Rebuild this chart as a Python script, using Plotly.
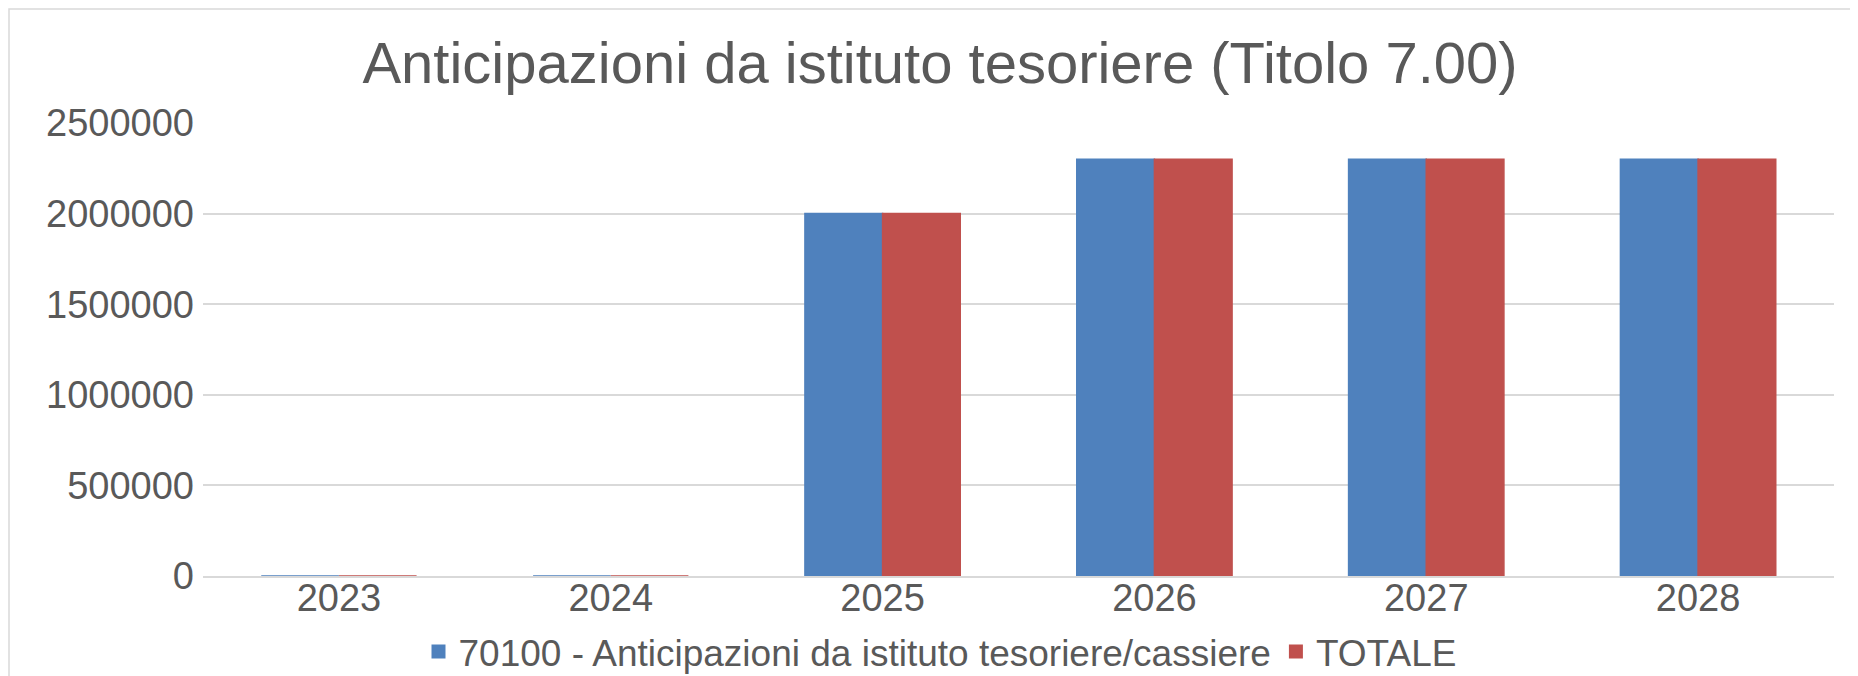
import plotly.graph_objects as go

years = ["2023", "2024", "2025", "2026", "2027", "2028"]
anticipazioni = [0, 0, 2000000, 2300000, 2300000, 2300000]
totale = [0, 0, 2000000, 2300000, 2300000, 2300000]
series_names = ["70100 - Anticipazioni da istituto tesoriere/cassiere", "TOTALE"]
title_text = "Anticipazioni da istituto tesoriere (Titolo 7.00)"
y_ticks = [0, 500000, 1000000, 1500000, 2000000, 2500000]

BLUE = "#4F81BD"
RED = "#C0504D"
TEXT = "#595959"
GRID = "#D9D9D9"
FONT = "Liberation Sans, Arial, sans-serif"

fig = go.Figure()
fig.add_trace(go.Bar(x=years, y=anticipazioni, name=series_names[0],
                     marker=dict(color=BLUE, line=dict(color=BLUE, width=1.5))))
fig.add_trace(go.Bar(x=years, y=totale, name=series_names[1],
                     marker=dict(color=RED, line=dict(color=RED, width=1.5))))

# page has an 8px body margin: figure is sized to fit the window
W, H = 1850, 668
L, R, T, B = 195, 24, 115, 100
pw = W - L - R
ph = H - T - B

fig.update_layout(
    width=W, height=H,
    margin=dict(l=L, r=R, t=T, b=B, pad=0, autoexpand=False),
    paper_bgcolor="white", plot_bgcolor="white",
    barmode="group", bargap=0.4286, bargroupgap=0,
    font=dict(family=FONT, color=TEXT, size=38),
    title=dict(text=title_text, font=dict(size=58, color=TEXT, family=FONT),
               x=(932 - L) / pw, xref="paper", xanchor="center",
               y=1 - 55 / H, yref="container", yanchor="middle"),
    legend=dict(orientation="h", x=(932 - L) / pw, xanchor="center",
                y=1 - 644 / H, yref="container", yanchor="middle",
                font=dict(size=37, color=TEXT, family=FONT),
                itemsizing="constant", bgcolor="rgba(0,0,0,0)"),
    showlegend=True,
)
fig.update_xaxes(automargin=False, showgrid=False, showline=True, linecolor=GRID, linewidth=2,
                 ticks="", tickfont=dict(size=38, color=TEXT), ticklabelstandoff=-13)
fig.update_yaxes(automargin=False, range=[0, 2500000], tickvals=y_ticks, tickformat="d",
                 showgrid=True, gridcolor=GRID, gridwidth=1.5, zeroline=False,
                 showline=False, ticks="", tickfont=dict(size=38, color=TEXT),
                 ticklabelstandoff=8)

# chart frame (outer border)
fig.add_shape(type="rect", xref="paper", yref="paper",
              x0=(1 - L) / pw, x1=1.2, y0=-0.5, y1=(H - B - 1) / ph,
              line=dict(color=GRID, width=1.5), fillcolor="rgba(0,0,0,0)", layer="below")

fig.write_html("out.html")
